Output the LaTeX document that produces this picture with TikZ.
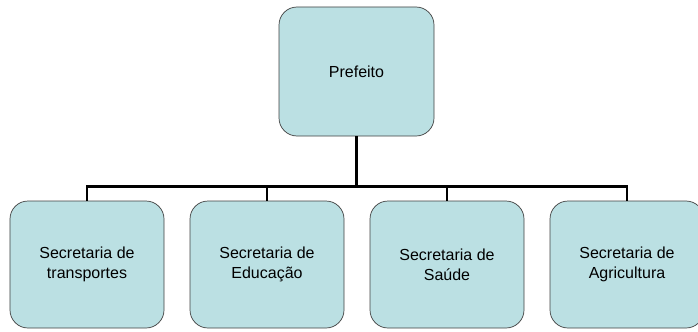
\documentclass[tikz,border=0pt]{standalone}
\usepackage{fontspec}
\setmainfont{Liberation Sans}
\usetikzlibrary{positioning}
\definecolor{boxfill}{HTML}{BBE0E3}
\definecolor{boxline}{HTML}{404040}
\tikzset{
    cargo/.style={draw=boxline,fill=boxfill,line width=0.7bp,rounded corners=18bp,
        minimum width=154bp,minimum height=127bp,inner sep=0pt,align=center,
        font=\fontsize{16bp}{20bp}\selectfont},
    ligacao/.style={draw=black,line width=2.2bp}
}
\begin{document}
\begin{tikzpicture}[x=1bp,y=1bp]
        \useasboundingbox (0,0) rectangle (698,331);
        \node[cargo,minimum width=155bp,minimum height=129bp] (p) at (356.5,259.5) {Prefeito};
        \node[cargo] (s_1) at (87,66.5)  {Secretaria de\\transportes};
        \node[cargo] (s_2) at (267,66.5) {Secretaria de\\Educação};
        \node[cargo] (s_3) at (447,66.5) {Secretaria de\\Saúde};
        \node[cargo] (s_4) at (627,66.5) {Secretaria de\\Agricultura};
        \coordinate (bus) at (356.5,144.5);
        \path[ligacao]
        (p.south) -- (bus)
        (s_1.north) |- (bus)
        (s_2.north) |- (bus)
        (s_3.north) |- (bus)
        (s_4.north) |- (bus);
    \end{tikzpicture}
\end{document}
